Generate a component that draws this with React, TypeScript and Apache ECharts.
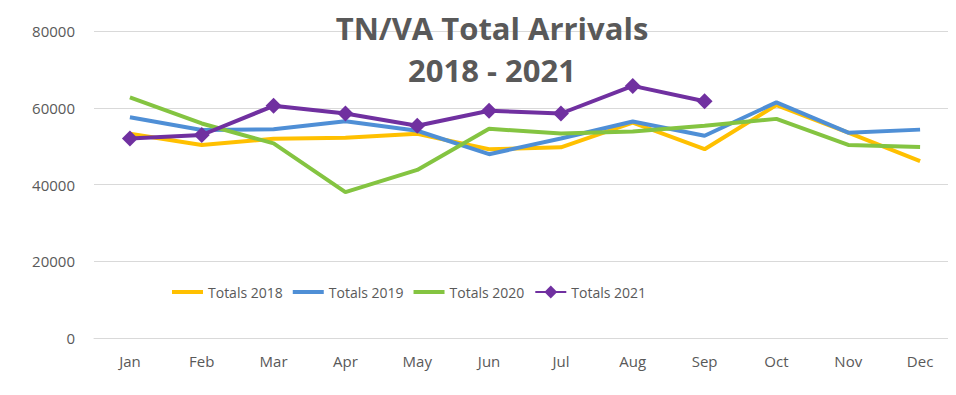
import React, { useEffect, useRef } from "react";
import * as echarts from "echarts";

const months = ["Jan", "Feb", "Mar", "Apr", "May", "Jun", "Jul", "Aug", "Sep", "Oct", "Nov", "Dec"];
const totals2018 = [53200, 50300, 51900, 52200, 53200, 49200, 49700, 56100, 49200, 60700, 53500, 46100];
const totals2019 = [57500, 54200, 54400, 56500, 54000, 47900, 52000, 56400, 52700, 61400, 53500, 54300];
const totals2020 = [62700, 55900, 50700, 38000, 43800, 54500, 53300, 53800, 55300, 57100, 50300, 49800];
const totals2021 = [52000, 52900, 60500, 58500, 55300, 59200, 58500, 65700, 61700];
const yTicks = { min: 0, max: 80000, interval: 20000 };

const FONT = "'Open Sans', 'Noto Sans', sans-serif";
const GREY = "#595959";
const BAR_ICON = "path://M0,0h31v4h-31z";

export default function App() {
  const ref = useRef<HTMLDivElement>(null);
  useEffect(() => {
    if (!ref.current) return;
    const chart = echarts.init(ref.current, undefined, { renderer: "svg" });
    const line = (name: string, data: number[], color: string, marker: boolean) => ({
      name,
      type: "line",
      data,
      symbol: marker ? "diamond" : "none",
      symbolSize: marker ? 16 : 0,
      showSymbol: marker,
      lineStyle: { width: 4, color },
      itemStyle: { color },
      emphasis: { disabled: true },
    });
    chart.setOption({
      animation: false,
      backgroundColor: "#ffffff",
      grid: { left: 94, top: 31, width: 864, height: 307, containLabel: false },
      legend: {
        left: 172,
        top: 285,
        padding: 0,
        itemWidth: 31,
        itemHeight: 16,
        itemGap: 10,
        symbolKeepAspect: true,
        textStyle: { color: GREY, fontSize: 14, fontFamily: FONT, width: 76 },
        data: [
          { name: "Totals 2018", icon: BAR_ICON },
          { name: "Totals 2019", icon: BAR_ICON },
          { name: "Totals 2020", icon: BAR_ICON },
          { name: "Totals 2021" },
        ],
      },
      xAxis: {
        type: "category",
        data: months,
        boundaryGap: true,
        axisLine: { show: true, lineStyle: { color: "#d9d9d9", width: 1 } },
        axisTick: { show: false },
        axisLabel: { color: GREY, fontSize: 15, fontFamily: FONT, margin: 15 },
      },
      yAxis: {
        type: "value",
        min: yTicks.min,
        max: yTicks.max,
        interval: yTicks.interval,
        axisLine: { show: false },
        axisTick: { show: false },
        splitLine: { lineStyle: { color: "#d9d9d9", width: 1 } },
        axisLabel: {
          color: GREY,
          fontSize: 15,
          fontFamily: FONT,
          margin: 19,
          formatter: (v: number) => String(v),
        },
      },
      graphic: [
        {
          type: "line",
          shape: { x1: 0, y1: 388, x2: 956, y2: 388 },
          style: { stroke: "#d9d9d9", lineWidth: 1 },
          silent: true,
        },
        {
          type: "text",
          x: 492,
          y: 28,
          style: {
            text: "TN/VA Total Arrivals",
            fill: GREY,
            font: `bold 31px ${FONT}`,
            textAlign: "center",
            textVerticalAlign: "middle",
          },
          z: 10,
        },
        {
          type: "text",
          x: 492,
          y: 70,
          style: {
            text: "2018 - 2021",
            fill: GREY,
            font: `bold 31px ${FONT}`,
            textAlign: "center",
            textVerticalAlign: "middle",
          },
          z: 10,
        },
      ],
      series: [
        line("Totals 2018", totals2018, "#FFC000", false),
        line("Totals 2019", totals2019, "#4F8FD6", false),
        line("Totals 2020", totals2020, "#84C441", false),
        line("Totals 2021", totals2021, "#7030A0", true),
      ],
    });
    return () => chart.dispose();
  }, []);
  return <div ref={ref} style={{ width: 956, height: 395, margin: -8 }} />;
}
